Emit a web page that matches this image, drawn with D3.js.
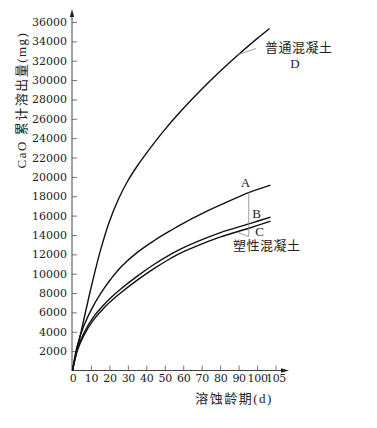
<!DOCTYPE html>
<html><head><meta charset="utf-8">
<script src="https://cdn.jsdelivr.net/npm/d3@7"></script>
<style>
html,body{margin:0;padding:0;background:#fff;}
svg{display:block;}
</style>
</head><body>
<script>
// ---- data (x in axis units as drawn, y in mg) ----
const xTickValues = [0,10,20,30,40,50,60,70,80,90,100,110];
const xTickLabels = ["0","10","20","30","40","50","60","70","80","90","100","105"];
const yTickValues = [2000,4000,6000,8000,10000,12000,14000,16000,18000,20000,22000,24000,26000,28000,30000,32000,34000,36000];

const daysD = [0,5,10,15,20,25,30,35,40,50,60,70,80,90,100,106.8];
const valD  = [0,4300,8500,12300,15400,17750,19600,21100,22430,24880,27060,29060,30920,32650,34280,35330];

const daysABC = [0,2.5,6.1,11.5,17.0,20.6,26.0,35.1,44.1,53.1,58.5,71.2,80.2,96.5,107.3];
const valA = [0,2500,4600,6750,8450,9400,10650,12200,13400,14450,15050,16300,17100,18450,19150];
const valB = [0,2120,3850,5560,6800,7500,8400,9750,10950,12000,12550,13600,14250,15200,15850];
const valC = [0,1980,3600,5250,6450,7120,8000,9330,10520,11570,12120,13150,13800,14750,15430];

const yTitle = "CaO 累计溶出量(mg)";
const xTitle = "溶蚀龄期(d)";
const labelD = "普通混凝土";
const labelPlastic = "塑性混凝土";

// ---- drawing ----
const W = 377, H = 428;
const svg = d3.select("body").append("svg").attr("width", W).attr("height", H);

const x = d3.scaleLinear().domain([0,110]).range([72.5,275.5]);
const y = d3.scaleLinear().domain([0,36000]).range([370.5,22]);
const ox = 72, oy = 370.5;

const serif = "'DejaVu Serif', serif";
const cjk = "'Liberation Serif', 'Noto Sans CJK SC', serif";
const axisColor = "#444";

// y axis
const yAxis = d3.axisLeft(y).tickValues(yTickValues).tickSizeInner(-5).tickSizeOuter(0).tickPadding(5).tickFormat(d3.format("d"));
const gy = svg.append("g").attr("transform", `translate(${ox},0)`).call(yAxis);
gy.select(".domain").remove();
gy.selectAll(".tick line").attr("stroke", "#777");
gy.selectAll(".tick text").attr("font-family", serif).attr("font-size", 11).attr("fill", "#222");

// x axis
const xAxis = d3.axisBottom(x).tickValues(xTickValues).tickSizeInner(-5).tickSizeOuter(0).tickPadding(4)
  .tickFormat((d,i) => xTickLabels[i]);
const gx = svg.append("g").attr("transform", `translate(0,${oy})`).call(xAxis);
gx.select(".domain").remove();
gx.selectAll(".tick line").attr("stroke", "#777").filter(d => d === 0).remove();
gx.selectAll(".tick text").attr("font-family", serif).attr("font-size", 11).attr("fill", "#222").attr("letter-spacing", -0.3);

// axis lines with arrows
svg.append("line").attr("x1", ox).attr("y1", oy).attr("x2", ox).attr("y2", 14).attr("stroke", axisColor).attr("stroke-width", 1);
svg.append("path").attr("d", `M${ox},9 L${ox-2.2},17 L${ox+2.2},17 Z`).attr("fill", "#222");
svg.append("line").attr("x1", ox).attr("y1", oy).attr("x2", 284).attr("y2", oy).attr("stroke", axisColor).attr("stroke-width", 1);
svg.append("path").attr("d", `M289,${oy} L281,${oy-2.2} L281,${oy+2.2} Z`).attr("fill", "#222");

// curves
const line = d3.line().x(d => x(d[0])).y(d => y(d[1])).curve(d3.curveCatmullRom.alpha(0.5));
const series = [
  [daysD, valD],
  [daysABC, valA],
  [daysABC, valB],
  [daysABC, valC]
];
series.forEach(([xs, vs]) => {
  svg.append("path").datum(xs.map((d,i) => [d, vs[i]]))
    .attr("d", line).attr("fill", "none").attr("stroke", "#111").attr("stroke-width", 1.4);
});

// axis titles
svg.append("text").attr("transform", "translate(26,100) rotate(-90)")
  .attr("text-anchor", "middle").attr("font-family", cjk).attr("font-size", 13)
  .attr("letter-spacing", 1.5).attr("fill", "#222").text(yTitle);
svg.append("text").attr("x", 234).attr("y", 403)
  .attr("text-anchor", "middle").attr("font-family", cjk).attr("font-size", 13)
  .attr("letter-spacing", 1.5).attr("fill", "#222").text(xTitle);

// annotations
const lead = "#888";
// D
svg.append("line").attr("x1", 256).attr("y1", 48.5).attr("x2", x(90)).attr("y2", y(32650)).attr("stroke", lead).attr("stroke-width", 0.8);
svg.append("text").attr("x", 265).attr("y", 52).attr("font-family", cjk).attr("font-size", 13).attr("letter-spacing", 0.5).attr("fill", "#222").text(labelD);
svg.append("text").attr("x", 295).attr("y", 68).attr("text-anchor", "middle").attr("font-family", "'Liberation Serif', serif").attr("font-size", 13).attr("fill", "#222").text("D");

// A/B/C
const vx = x(95.5);
svg.append("line").attr("x1", vx).attr("y1", y(18400)).attr("x2", vx).attr("y2", 236.5).attr("stroke", lead).attr("stroke-width", 0.8);
svg.append("line").attr("x1", x(89)).attr("y1", y(14300)).attr("x2", vx).attr("y2", 236.5).attr("stroke", lead).attr("stroke-width", 0.8);
svg.append("text").attr("x", 245.5).attr("y", 187).attr("text-anchor", "middle").attr("font-family", "'Liberation Serif', serif").attr("font-size", 13).attr("fill", "#222").text("A");
svg.append("text").attr("x", 256.5).attr("y", 218).attr("text-anchor", "middle").attr("font-family", "'Liberation Serif', serif").attr("font-size", 13).attr("fill", "#222").text("B");
svg.append("text").attr("x", 259.5).attr("y", 235.5).attr("text-anchor", "middle").attr("font-family", "'Liberation Serif', serif").attr("font-size", 13).attr("fill", "#222").text("C");
svg.append("text").attr("x", 233).attr("y", 250).attr("font-family", cjk).attr("font-size", 13).attr("letter-spacing", 0.5).attr("fill", "#222").text(labelPlastic);
</script>
</body></html>
